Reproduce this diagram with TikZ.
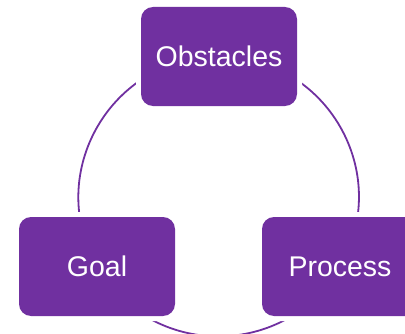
\documentclass[tikz,border=0pt]{standalone}
\usepackage{fontspec}
\setmainfont{Liberation Sans}
\usetikzlibrary{backgrounds}
\definecolor{cyclepurple}{RGB}{112,48,160}

\tikzset{
  stage/.style={fill=cyclepurple, text=white, rounded corners=12pt,
    minimum width=156pt, minimum height=99pt, inner sep=0pt,
    font=\fontsize{28.5}{34}\selectfont,
    preaction={draw=white, line width=10pt}},
  cycleline/.style={draw=cyclepurple, line width=1.8pt, bend left=60, looseness=1.135}
}

\begin{document}
\begin{tikzpicture}[x=1pt,y=1pt]
          \useasboundingbox (0,0) rectangle (405,333); % page size

          \node [stage] (obstacles) at (219,276.5) {Obstacles};
          \node [stage] (goal) at (97,66.5) {Goal};
          \node [stage] (process) at (340,66.5) {Process};

          \begin{scope}[on background layer]
          \draw [cycleline] (goal.center) to (obstacles.center);
          \draw [cycleline] (obstacles.center) to (process.center);
          \draw [cycleline] (process.center) to (goal.center);
          \end{scope}
        \end{tikzpicture}
\end{document}
